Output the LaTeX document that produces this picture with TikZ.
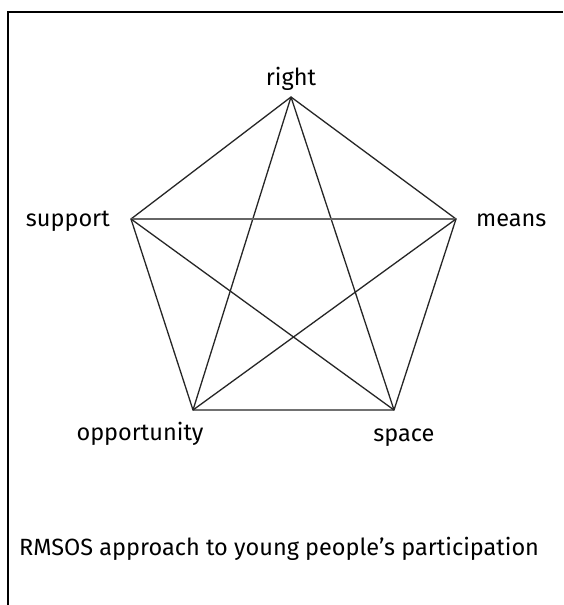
\documentclass[tikz,border=0pt]{standalone}
\usepackage{fontspec}
\setmainfont{Fira Sans}
\begin{document}
\begin{tikzpicture}[x=1pt,y=-1pt,
  lbl/.style={inner sep=0pt, font=\fontsize{23.5}{27}\selectfont},
  edge/.style={line width=1.3pt, black!85}]
\useasboundingbox (0,0) rectangle (563,605);
\fill[white] (0,0) rectangle (563,605);
\draw[line width=2.6pt] (8,605) -- (8,12) -- (563,12);
\coordinate (r) at (291,97);
\coordinate (su) at (131,219);
\coordinate (m) at (456,219);
\coordinate (o) at (193,410);
\coordinate (sp) at (394,410);
\draw[edge] (r) -- (m) -- (sp) -- (o) -- (su) -- cycle;
\draw[edge] (r) -- (o);
\draw[edge] (r) -- (sp);
\draw[edge, black!60] (su) -- (m);
\draw[edge] (su) -- (sp);
\draw[edge] (m) -- (o);
\node[lbl, anchor=base] (tr) at (291,85) {right};
\node[lbl, anchor=base east] (tsu) at (110,226) {support};
\node[lbl, anchor=base west] (tm) at (476,226) {means};
\node[lbl, anchor=base] (to) at (140,440) {opportunity};
\node[lbl, anchor=base] (tsp) at (404,441) {space};
\node[lbl, anchor=base west] (cap) at (19,555) {RMSOS approach to young people’s participation};
\end{tikzpicture}
\end{document}
